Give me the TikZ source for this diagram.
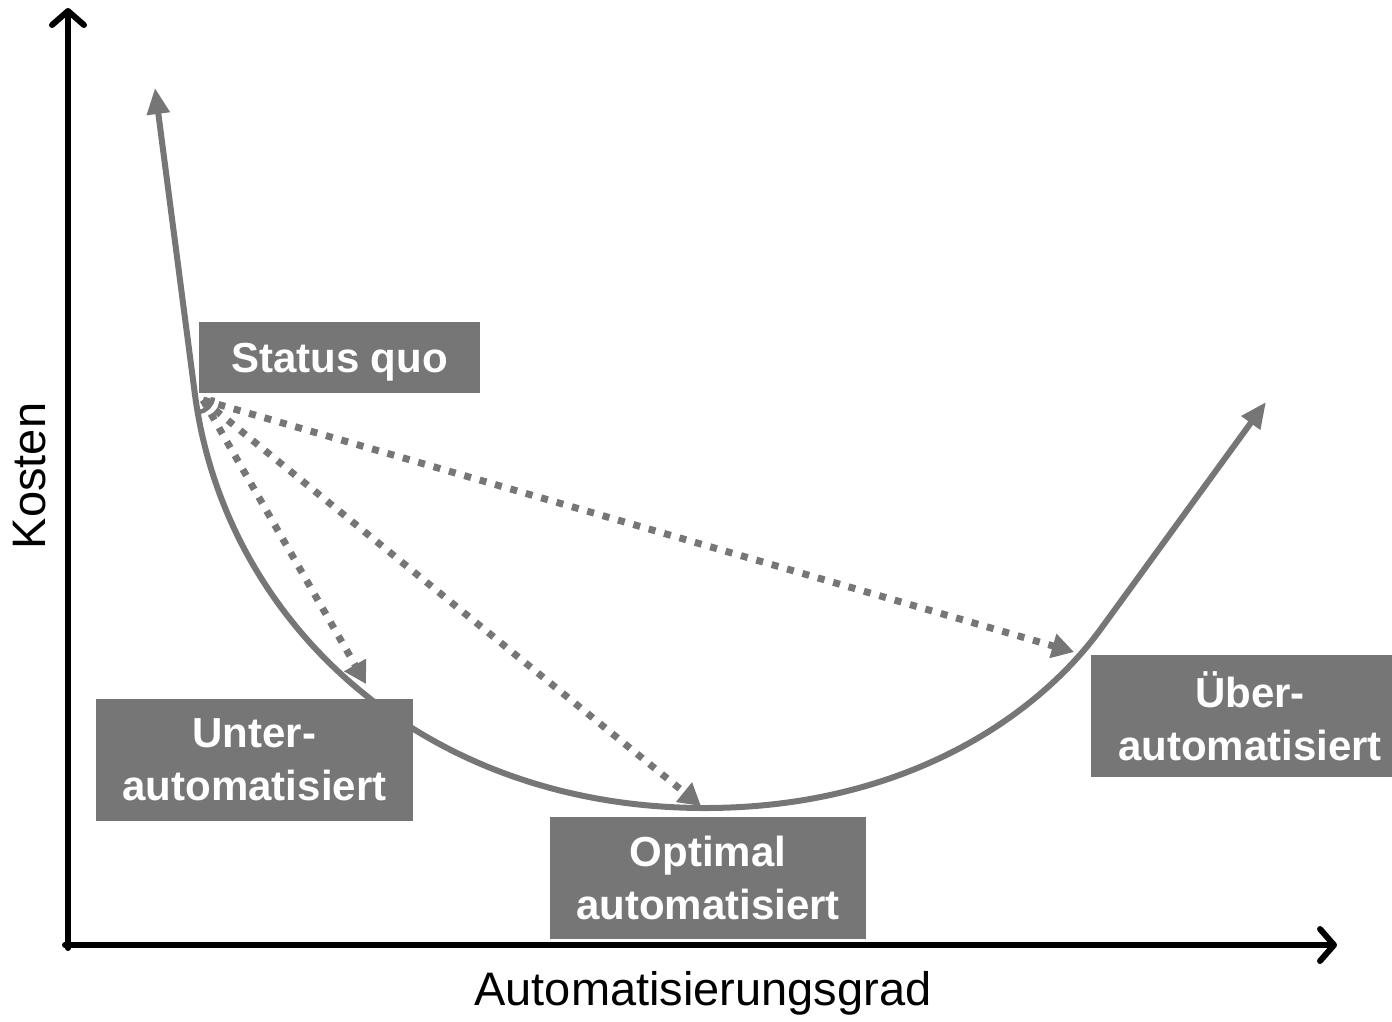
\documentclass[tikz,border=0pt]{standalone}
\usepackage{fontspec}
\setmainfont{Liberation Sans}
\usetikzlibrary{arrows.meta}
\definecolor{cgray}{HTML}{767676}
\begin{document}
\begin{tikzpicture}[x=1pt,y=-1pt,
  axis/.style={line width=6pt,black,line cap=round},
  curveline/.style={line width=6pt,cgray},
  dotline/.style={line width=7pt,cgray,dash pattern=on 7pt off 9pt,
     -{Triangle[length=22pt,width=24pt]}},
  labelbox/.style={fill=cgray,text=white,inner sep=0pt,align=center,
     font=\fontsize{42}{53}\selectfont\bfseries},
  axislabel/.style={font=\fontsize{47}{56}\selectfont}]
\useasboundingbox (0,0) rectangle (1392,1021);
% axes
\coordinate (o) at (68,945);
\coordinate (ytip) at (68,8);
\coordinate (xtip) at (1337,945);
\draw[axis,-{Straight Barb[length=14pt,width=32pt,round]}] (68,948) -- (ytip);
\draw[axis,-{Straight Barb[length=14pt,width=32pt,round]}] (65,945) -- (xtip);
% curve
\coordinate (top) at (155,88);
\coordinate (sq) at (195,395);
\coordinate (minpt) at (705,808);
\coordinate (rbend) at (1100,630);
\coordinate (rtip) at (1266,402);
\draw[curveline,{Triangle[length=26pt,width=22pt]}-{Triangle[length=26pt,width=22pt]}]
  (top) -- (sq) .. controls (225,620) and (420,808) .. (minpt)
  .. controls (900,808) and (1034,720) .. (rbend) -- (rtip);
% angle mark
\draw[cgray,line width=4.5pt] (213,397.4) arc[start angle=5,end angle=85,radius=16];
% dotted arrows
\coordinate (s0) at (203,400);
\coordinate (tu) at (366,684);
\coordinate (to) at (701,806);
\coordinate (tue) at (1074,652);
\draw[dotline] (s0) -- (tu);
\draw[dotline] (s0) -- (to);
\draw[dotline] (s0) -- (tue);
% boxes
\node[labelbox,minimum width=281pt,minimum height=71pt,text height=30pt,text depth=1pt] (status) at (339.5,357.5) {Status quo};
\node[labelbox,minimum width=317pt,minimum height=122pt] (unter) at (254.5,760) {Unter-\\automatisiert};
\node[labelbox,minimum width=316pt,minimum height=122pt] (optimal) at (708,878) {Optimal\\automatisiert};
\node[labelbox,minimum width=301pt,minimum height=122pt,text width=301pt] (ueber) at (1241.5,716) {\hspace*{17pt}Über-\\\hspace*{17pt}automatisiert};
% axis labels
\node[axislabel] (xlabel) at (703,993) {Automatisierungsgrad};
\node[axislabel,rotate=90] (ylabel) at (30,476) {Kosten};
\end{tikzpicture}
\end{document}
